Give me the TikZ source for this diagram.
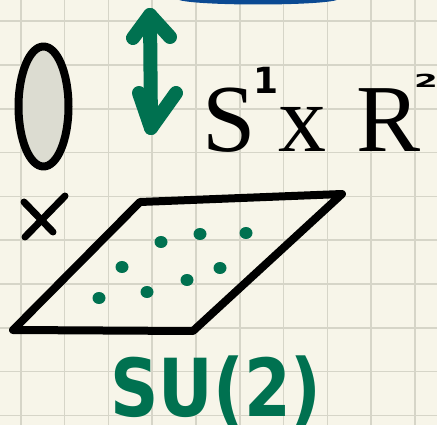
\documentclass[tikz,border=0pt]{standalone}
\usepackage{fontspec}
\setmainfont{Liberation Serif}
\newfontfamily\handfont{DejaVu Sans}
\usetikzlibrary{positioning}
\definecolor{paper}{RGB}{247,245,233}
\definecolor{gridline}{RGB}{214,213,200}
\definecolor{penblue}{RGB}{11,74,147}
\definecolor{pengreen}{RGB}{0,113,80}
\definecolor{discgray}{RGB}{220,220,209}

\tikzset{
  ink/.style={line width=8pt, line cap=round, line join=round},
  greenink/.style={pengreen, line width=14pt, line cap=round, line join=round},
  bigserif/.style={font=\fontsize{96}{96}\selectfont, anchor=base west, inner sep=0pt},
  handsup/.style={font=\handfont\bfseries\fontsize{36}{36}\selectfont, anchor=north west, inner sep=0pt},
}

\begin{document}
\begin{tikzpicture}[x=1pt,y=-1pt]
  % Paper and grid
  \fill[paper] (0,0) rectangle (437,425);
  \useasboundingbox (0,0) rectangle (437,425);
  \foreach \k in {0,...,9} {
    \draw[gridline, line width=1.5pt] (20.8+43.8*\k,0) -- (20.8+43.8*\k,425);
    \draw[gridline, line width=1.5pt] (0,21.2+43.8*\k) -- (437,21.2+43.8*\k);
  }
  % Blue blob cut at the top
  \fill[penblue] (258,-1) ellipse (80 and 5.5);
  % Circle fibre
  \draw[ink, fill=discgray] (43.5,106.5) ellipse (25 and 60);
  % Double arrow
  \coordinate (up) at (150,15);
  \coordinate (down) at (151,128);
  \draw[greenink] (up) -- (down);
  \draw[greenink] (133,38) -- (up) -- (170,37);
  \draw[greenink] (139,93) -- (down) -- (176,93);
  % Product label
  \node[bigserif] (sfac) at (202,152) {S};
  \node[handsup] (supone) at (253,67) {1};
  \node[bigserif] (xfac) at (278,152) {x};
  \node[bigserif] (rfac) at (356,152) {R};
  \node[handsup] (suptwo) at (414,74) {\scalebox{0.95}[0.5]{2}};
  % Times sign
  \draw[ink, line width=7pt] (25,237) -- (65,196);
  \draw[ink, line width=7pt] (24,202) -- (53,232);
  % Plane
  \draw[ink] (13,330) -- (140,202) -- (342,194) -- (193,331) -- cycle;
  % Points on the plane
  \foreach \p/\q in {161/242, 200/234, 246/233, 122/267, 220/268, 187/280, 147/292, 99/298}
    \fill[pengreen] (\p,\q) ellipse (6.5 and 6);
  % Group label
  \node[font=\handfont\bfseries\fontsize{80}{80}\selectfont, text=pengreen,
        anchor=base, inner sep=0pt] (group) at (216,416) {\scalebox{0.84}[1]{SU(2)}};
\end{tikzpicture}
\end{document}
